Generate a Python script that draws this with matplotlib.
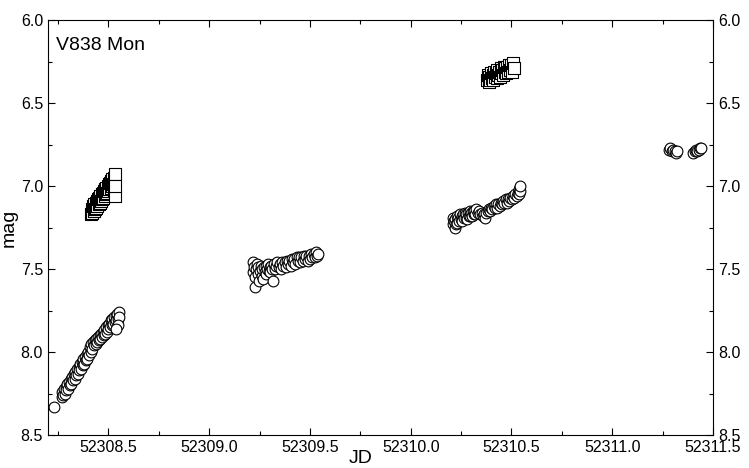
import numpy as np
import matplotlib
matplotlib.use("Agg")
import matplotlib.pyplot as plt
from matplotlib.ticker import MultipleLocator, FormatStrFormatter

plt.rcParams['font.family'] = ['Liberation Sans', 'DejaVu Sans']

# night 1, circles
jd_c1 = [52308.232, 52308.268, 52308.272, 52308.276, 52308.280, 52308.284, 52308.288,
         52308.292, 52308.296, 52308.300, 52308.304, 52308.308, 52308.312, 52308.316,
         52308.320, 52308.324, 52308.328, 52308.332, 52308.336, 52308.340, 52308.344,
         52308.348, 52308.352, 52308.356, 52308.360, 52308.364, 52308.368, 52308.372,
         52308.376, 52308.380, 52308.384, 52308.388, 52308.392, 52308.396, 52308.400,
         52308.404, 52308.408, 52308.412, 52308.416, 52308.420, 52308.424, 52308.428,
         52308.432, 52308.436, 52308.440, 52308.444, 52308.448, 52308.452, 52308.456,
         52308.460, 52308.464, 52308.468, 52308.472, 52308.476, 52308.480, 52308.484,
         52308.488, 52308.492, 52308.496, 52308.500, 52308.504, 52308.508, 52308.512,
         52308.516, 52308.520, 52308.524, 52308.528, 52308.532, 52308.536, 52308.540,
         52308.544, 52308.548, 52308.552, 52308.555, 52308.550, 52308.540]
mag_c1 = [8.33, 8.27, 8.24, 8.26, 8.22, 8.25, 8.21, 8.23, 8.19, 8.22, 8.18, 8.20, 8.16,
          8.19, 8.15, 8.17, 8.13, 8.16, 8.12, 8.14, 8.10, 8.13, 8.09, 8.11, 8.07, 8.10,
          8.06, 8.08, 8.04, 8.07, 8.03, 8.05, 8.01, 8.04, 8.00, 8.02, 7.97, 8.00, 7.95,
          7.98, 7.94, 7.96, 7.93, 7.95, 7.92, 7.94, 7.91, 7.93, 7.90, 7.92, 7.89, 7.91,
          7.88, 7.90, 7.87, 7.89, 7.85, 7.88, 7.84, 7.86, 7.83, 7.85, 7.81, 7.84, 7.80,
          7.83, 7.79, 7.82, 7.78, 7.81, 7.77, 7.80, 7.76, 7.79, 7.84, 7.86]

# night 1, squares
jd_s1 = [52308.415, 52308.418, 52308.421, 52308.424, 52308.427, 52308.430, 52308.433,
         52308.436, 52308.439, 52308.442, 52308.445, 52308.448, 52308.451, 52308.454,
         52308.457, 52308.460, 52308.463, 52308.466, 52308.469, 52308.472, 52308.475,
         52308.478, 52308.481, 52308.484, 52308.487, 52308.490, 52308.493, 52308.496,
         52308.499, 52308.502, 52308.505, 52308.508, 52308.511, 52308.514, 52308.517,
         52308.520, 52308.523, 52308.526, 52308.529, 52308.532, 52308.534, 52308.534]
mag_s1 = [7.17, 7.14, 7.16, 7.12, 7.15, 7.11, 7.14, 7.10, 7.13, 7.09, 7.12, 7.08, 7.11,
          7.07, 7.10, 7.06, 7.09, 7.05, 7.08, 7.04, 7.07, 7.03, 7.06, 7.02, 7.05, 7.01,
          7.04, 7.00, 7.03, 6.99, 7.02, 6.98, 7.01, 6.97, 7.00, 6.96, 6.99, 6.95, 7.03,
          6.93, 7.06, 7.00]

# night 2, circles
jd_c2 = [52309.216, 52309.218, 52309.222, 52309.226, 52309.229, 52309.232, 52309.236,
         52309.240, 52309.244, 52309.248, 52309.252, 52309.256, 52309.260, 52309.264,
         52309.268, 52309.272, 52309.276, 52309.280, 52309.284, 52309.288, 52309.292,
         52309.296, 52309.300, 52309.304, 52309.308, 52309.312, 52309.316, 52309.320,
         52309.326, 52309.332, 52309.338, 52309.344, 52309.350, 52309.356, 52309.362,
         52309.368, 52309.374, 52309.380, 52309.386, 52309.392, 52309.398, 52309.404,
         52309.410, 52309.416, 52309.422, 52309.428, 52309.434, 52309.440, 52309.446,
         52309.452, 52309.458, 52309.464, 52309.470, 52309.476, 52309.482, 52309.488,
         52309.494, 52309.500, 52309.506, 52309.512, 52309.518, 52309.524, 52309.530,
         52309.536, 52309.539]
mag_c2 = [7.46, 7.52, 7.49, 7.55, 7.61, 7.50, 7.47, 7.53, 7.49, 7.57, 7.51, 7.48, 7.54,
          7.50, 7.56, 7.49, 7.52, 7.48, 7.53, 7.50, 7.47, 7.51, 7.49, 7.52, 7.48, 7.50,
          7.57, 7.47, 7.50, 7.48, 7.46, 7.49, 7.47, 7.50, 7.46, 7.48, 7.46, 7.49, 7.45,
          7.47, 7.45, 7.48, 7.44, 7.46, 7.44, 7.47, 7.43, 7.45, 7.43, 7.46, 7.43, 7.45,
          7.42, 7.44, 7.42, 7.45, 7.42, 7.44, 7.41, 7.43, 7.41, 7.43, 7.40, 7.42, 7.41]

# night 3, circles
jd_c3 = [52310.210, 52310.212, 52310.215, 52310.218, 52310.221, 52310.224, 52310.228,
         52310.232, 52310.236, 52310.240, 52310.244, 52310.248, 52310.252, 52310.256,
         52310.260, 52310.264, 52310.268, 52310.272, 52310.276, 52310.280, 52310.284,
         52310.288, 52310.292, 52310.296, 52310.300, 52310.304, 52310.308, 52310.312,
         52310.316, 52310.320, 52310.326, 52310.332, 52310.338, 52310.345, 52310.352,
         52310.358, 52310.364, 52310.369, 52310.375, 52310.381, 52310.387, 52310.393,
         52310.399, 52310.405, 52310.411, 52310.417, 52310.423, 52310.429, 52310.435,
         52310.441, 52310.447, 52310.453, 52310.459, 52310.465, 52310.471, 52310.477,
         52310.483, 52310.489, 52310.495, 52310.501, 52310.507, 52310.513, 52310.519,
         52310.525, 52310.530, 52310.535, 52310.539, 52310.543, 52310.540]
mag_c3 = [7.19, 7.23, 7.21, 7.25, 7.20, 7.23, 7.18, 7.22, 7.19, 7.21, 7.17, 7.20, 7.18,
          7.21, 7.17, 7.19, 7.16, 7.19, 7.17, 7.20, 7.16, 7.18, 7.15, 7.18, 7.16, 7.18,
          7.15, 7.17, 7.15, 7.17, 7.14, 7.16, 7.15, 7.17, 7.16, 7.18, 7.17, 7.19, 7.16,
          7.15, 7.14, 7.15, 7.13, 7.14, 7.12, 7.13, 7.11, 7.13, 7.11, 7.12, 7.10, 7.11,
          7.09, 7.10, 7.08, 7.10, 7.08, 7.09, 7.07, 7.08, 7.06, 7.07, 7.05, 7.06, 7.04,
          7.05, 7.02, 7.03, 7.00]

# night 3, squares
jd_s3 = [52310.378, 52310.382, 52310.386, 52310.390, 52310.394, 52310.398, 52310.402,
         52310.406, 52310.410, 52310.414, 52310.418, 52310.422, 52310.426, 52310.430,
         52310.434, 52310.438, 52310.442, 52310.446, 52310.450, 52310.454, 52310.458,
         52310.462, 52310.466, 52310.470, 52310.475, 52310.480, 52310.485, 52310.490,
         52310.495, 52310.500, 52310.504, 52310.508, 52310.510]
mag_s3 = [6.36, 6.33, 6.37, 6.34, 6.36, 6.32, 6.35, 6.33, 6.36, 6.31, 6.34, 6.32, 6.35,
          6.30, 6.33, 6.31, 6.34, 6.29, 6.32, 6.30, 6.33, 6.28, 6.31, 6.29, 6.32, 6.28,
          6.31, 6.27, 6.30, 6.27, 6.31, 6.26, 6.29]

# night 4, circles
jd_c4 = [52311.280, 52311.288, 52311.295, 52311.302, 52311.310, 52311.318, 52311.322,
         52311.400, 52311.408, 52311.415, 52311.422, 52311.430, 52311.436, 52311.440]
mag_c4 = [6.78, 6.77, 6.79, 6.78, 6.79, 6.80, 6.79, 6.80, 6.79, 6.78, 6.79, 6.78, 6.77,
          6.77]

fig = plt.figure(figsize=(7.49, 4.68), dpi=100)
ax = fig.add_axes([0.064, 0.0705, 0.888, 0.8865])

circ = dict(marker='o', s=60, facecolor='white', edgecolor='black', linewidths=0.8)
sq = dict(marker='s', s=66, facecolor='white', edgecolor='black', linewidths=0.8)

ax.scatter(jd_c1, mag_c1, **circ)
ax.scatter(jd_s1, mag_s1, **sq)
ax.scatter(jd_c2, mag_c2, **circ)
ax.scatter(jd_c3, mag_c3, **circ)
ax.scatter(jd_s3, mag_s3, **sq)
ax.scatter(jd_c4, mag_c4, **circ)

ax.set_xlim(52308.2, 52311.5)
ax.set_ylim(8.5, 6.0)

ax.xaxis.set_major_locator(MultipleLocator(0.5))
ax.xaxis.set_minor_locator(MultipleLocator(0.25))
ax.xaxis.set_major_formatter(FormatStrFormatter('%.1f'))
ax.yaxis.set_major_locator(MultipleLocator(0.5))
ax.yaxis.set_minor_locator(MultipleLocator(0.25))
ax.yaxis.set_major_formatter(FormatStrFormatter('%.1f'))

ax.tick_params(which='both', direction='in', top=True, right=True,
               labelright=True, labelsize=11.5, width=0.8)
ax.tick_params(which='major', length=5)
ax.tick_params(which='minor', length=3)
for sp in ax.spines.values():
    sp.set_linewidth(0.8)

ax.set_xlabel('JD', fontsize=14)
ax.xaxis.set_label_coords(0.47, -0.035)
ax.set_ylabel('mag', fontsize=14, labelpad=2)

ax.text(0.012, 0.96, 'V838 Mon', transform=ax.transAxes, fontsize=14,
        ha='left', va='top')

fig.savefig('out.png', dpi=100)
